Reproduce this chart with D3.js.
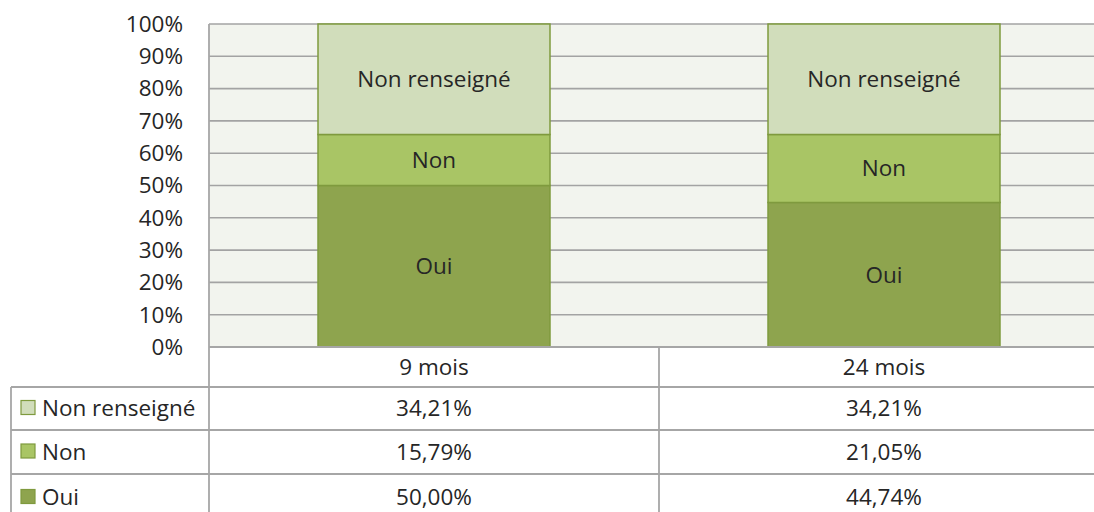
<!DOCTYPE html>
<html>
<head>
<meta charset="utf-8">
<script src="https://cdn.jsdelivr.net/npm/d3@7"></script>
<style>
	body { margin: 0; background: #fff; }
	text { font-family: "Open Sans", "Noto Sans", sans-serif; fill: #262626; font-size: 22.5px; }
</style>
</head>
<body>
<div id="graphic"></div>
<script>
// chart data
var categories = ['9 mois', '24 mois'];
var seriesNames = ['Oui', 'Non', 'Non renseigné'];
var oui = [50.00, 44.74];
var non = [15.79, 21.05];
var nonRenseigne = [34.21, 34.21];
var yTicks = [0, 10, 20, 30, 40, 50, 60, 70, 80, 90, 100];

var colours = { 'Oui': '#8ea44e', 'Non': '#a9c565', 'Non renseigné': '#d1ddbb' };

var width = 1094, height = 512;
var margin = { left: 209, top: 24 };
var plotRight = 1109, plotBottom = 347;
var rowEdges = [347, 387, 430, 474, 521];
var fmt = (v) => v.toFixed(2).replace('.', ',') + '%';

var svg = d3.select('#graphic')
	.append('svg')
	.attr('width', width)
	.attr('height', height);

var x = d3.scaleBand().domain(categories).range([margin.left, plotRight]).paddingInner(0).paddingOuter(0);
var y = d3.scaleLinear().domain([0, 100]).range([plotBottom, margin.top]);

// build stacked data
var rows = categories.map((c, i) => ({ cat: c, 'Oui': oui[i], 'Non': non[i], 'Non renseigné': nonRenseigne[i] }));
var stacked = d3.stack().keys(seriesNames)(rows);

// plot background
svg.append('rect')
	.attr('x', margin.left).attr('y', margin.top)
	.attr('width', plotRight - margin.left).attr('height', plotBottom - margin.top)
	.attr('fill', '#f2f4ee');

// gridlines
svg.append('g')
	.selectAll('line')
	.data(yTicks)
	.join('line')
	.attr('x1', margin.left).attr('x2', plotRight)
	.attr('y1', (d) => y(d)).attr('y2', (d) => y(d))
	.attr('stroke', '#a3a3a3')
	.attr('stroke-width', 1.6);

// y axis labels
svg.append('g')
	.selectAll('text')
	.data(yTicks)
	.join('text')
	.attr('x', 183)
	.attr('y', (d) => y(d))
	.attr('dy', '0.35em')
	.attr('text-anchor', 'end')
	.text((d) => d + '%');

// bars
var barW = 232;
var layers = svg.append('g')
	.selectAll('g')
	.data(stacked)
	.join('g')
	.attr('fill', (d) => colours[d.key]);

layers.selectAll('rect')
	.data((d) => d)
	.join('rect')
	.attr('x', (d) => x(d.data.cat) + x.bandwidth() / 2 - barW / 2)
	.attr('y', (d) => y(d[1]))
	.attr('width', barW)
	.attr('height', (d) => y(d[0]) - y(d[1]))
	.attr('stroke', '#7f9a3e')
	.attr('stroke-width', 1.5);

// segment labels
stacked.forEach((layer) => {
	svg.append('g')
		.selectAll('text')
		.data(layer)
		.join('text')
		.attr('x', (d) => x(d.data.cat) + x.bandwidth() / 2)
		.attr('y', (d) => y((d[0] + d[1]) / 2))
		.attr('dy', '0.35em')
		.attr('text-anchor', 'middle')
		.text(layer.key);
});

// data table
var table = svg.append('g');
var lineCol = '#a6a6a6';

// horizontal lines
table.selectAll('line.h')
	.data(rowEdges.slice(0, 4))
	.join('line')
	.attr('class', 'h')
	.attr('x1', (d, i) => (i == 0 ? margin.left : 11))
	.attr('x2', plotRight)
	.attr('y1', (d) => d).attr('y2', (d) => d)
	.attr('stroke', lineCol)
	.attr('stroke-width', 1.8);

// vertical lines
table.append('line')
	.attr('x1', 11).attr('x2', 11)
	.attr('y1', rowEdges[1]).attr('y2', height)
	.attr('stroke', lineCol).attr('stroke-width', 1.8);
table.append('line')
	.attr('x1', margin.left).attr('x2', margin.left)
	.attr('y1', margin.top).attr('y2', height)
	.attr('stroke', lineCol).attr('stroke-width', 1.8);
table.selectAll('line.v')
	.data(categories.slice(1))
	.join('line')
	.attr('class', 'v')
	.attr('x1', (d) => x(d)).attr('x2', (d) => x(d))
	.attr('y1', plotBottom).attr('y2', height)
	.attr('stroke', lineCol).attr('stroke-width', 1.8);

// header row
table.selectAll('text.cat')
	.data(categories)
	.join('text')
	.attr('class', 'cat')
	.attr('x', (d) => x(d) + x.bandwidth() / 2)
	.attr('y', (rowEdges[0] + rowEdges[1]) / 2)
	.attr('dy', '0.35em')
	.attr('text-anchor', 'middle')
	.text((d) => d);

// legend rows, top to bottom
var tableRows = [
	{ name: 'Non renseigné', values: nonRenseigne },
	{ name: 'Non', values: non },
	{ name: 'Oui', values: oui }
];

tableRows.forEach((r, i) => {
	var cy = (rowEdges[i + 1] + rowEdges[i + 2]) / 2;
	table.append('rect')
		.attr('x', 21).attr('y', cy - 8)
		.attr('width', 14).attr('height', 14)
		.attr('fill', colours[r.name])
		.attr('stroke', '#7f9a3e')
		.attr('stroke-width', 1.2);
	table.append('text')
		.attr('x', 42).attr('y', cy)
		.attr('dy', '0.35em')
		.text(r.name);
	table.selectAll(null)
		.data(r.values)
		.join('text')
		.attr('x', (d, j) => x(categories[j]) + x.bandwidth() / 2)
		.attr('y', cy)
		.attr('dy', '0.35em')
		.attr('text-anchor', 'middle')
		.text((d) => fmt(d));
});
</script>
</body>
</html>
